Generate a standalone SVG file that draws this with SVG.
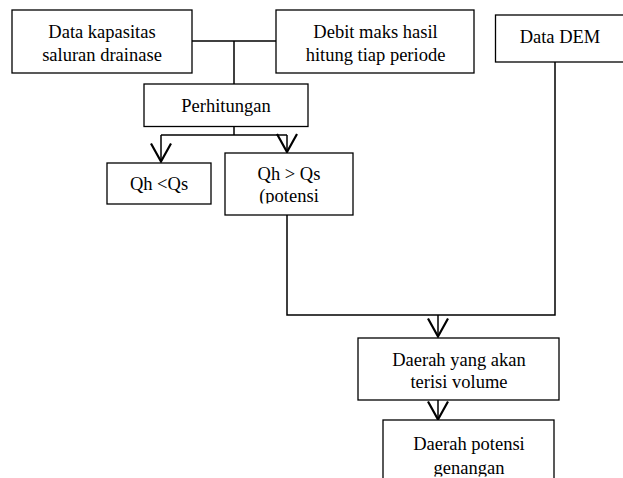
<svg xmlns="http://www.w3.org/2000/svg" width="623" height="478" viewBox="0 0 623 478">
  <style>
    .box { fill: #ffffff; stroke: #000000; stroke-width: 1.3; }
    .t { font-family: "Liberation Serif", "Times New Roman", serif; font-size: 18.5px; fill: #000000; text-anchor: middle; }
    .ln { fill: none; stroke: #000000; stroke-width: 1.5; }
    .arr { fill: none; stroke: #000000; stroke-width: 1.5; marker-end: url(#ah); }
  </style>
  <defs>
    <marker id="ah" markerUnits="userSpaceOnUse" markerWidth="24" markerHeight="26" viewBox="-20 -12 24 24" refX="0" refY="0" orient="auto" overflow="visible">
      <path d="M-18,-10 L0,0 L-18,10" fill="none" stroke="#000000" stroke-width="2.2"/>
    </marker>
    <clipPath id="clipQh"><rect x="225" y="153" width="128" height="50.5"/></clipPath>
    <clipPath id="clipGen"><rect x="383" y="420" width="171" height="56.5"/></clipPath>
  </defs>
  <rect width="623" height="478" fill="#ffffff"/>

  <g id="connectors">
    <path class="ln" d="M192,41 H276"/>
    <path class="ln" d="M234,41 V84"/>
    <path class="ln" d="M234,126.5 V135"/>
    <path class="ln" d="M161,135 H287"/>
    <path class="arr" d="M161,135 V161.5"/>
    <path class="arr" d="M287,135 V152"/>
    <path class="ln" d="M287,215 V315 H555 V62"/>
    <path class="arr" d="M438,315 V336.5"/>
    <path class="arr" d="M438,400 V419.5"/>
  </g>

  <g id="node-kapasitas">
    <rect class="box" x="12" y="10" width="180" height="63"/>
    <text class="t" x="102" y="38">Data kapasitas</text>
    <text class="t" x="102" y="61">saluran drainase</text>
  </g>

  <g id="node-debit">
    <rect class="box" x="276" y="10" width="198" height="63"/>
    <text class="t" x="375.5" y="38">Debit maks hasil</text>
    <text class="t" x="375.5" y="61">hitung tiap periode</text>
  </g>

  <g id="node-dem">
    <rect class="box" x="495.5" y="15" width="130" height="47"/>
    <text class="t" x="560" y="43">Data DEM</text>
  </g>

  <g id="node-perhitungan">
    <rect class="box" x="144" y="84" width="164" height="42.5"/>
    <text class="t" x="226" y="112">Perhitungan</text>
  </g>

  <g id="node-qh-lt">
    <rect class="box" x="107" y="163" width="104" height="41"/>
    <text class="t" x="159" y="190">Qh &lt;Qs</text>
  </g>

  <g id="node-qh-gt">
    <rect class="box" x="225" y="153" width="128" height="62"/>
    <g clip-path="url(#clipQh)">
      <text class="t" x="289" y="180">Qh &gt; Qs</text>
      <text class="t" x="289" y="202">(potensi</text>
    </g>
  </g>

  <g id="node-terisi">
    <rect class="box" x="358" y="338" width="201" height="62"/>
    <text class="t" x="459" y="366">Daerah yang akan</text>
    <text class="t" x="459" y="388">terisi volume</text>
  </g>

  <g id="node-genangan">
    <rect class="box" x="383" y="420" width="171" height="70"/>
    <g clip-path="url(#clipGen)">
      <text class="t" x="469" y="450">Daerah potensi</text>
      <text class="t" x="469" y="474">genangan</text>
    </g>
  </g>
</svg>
